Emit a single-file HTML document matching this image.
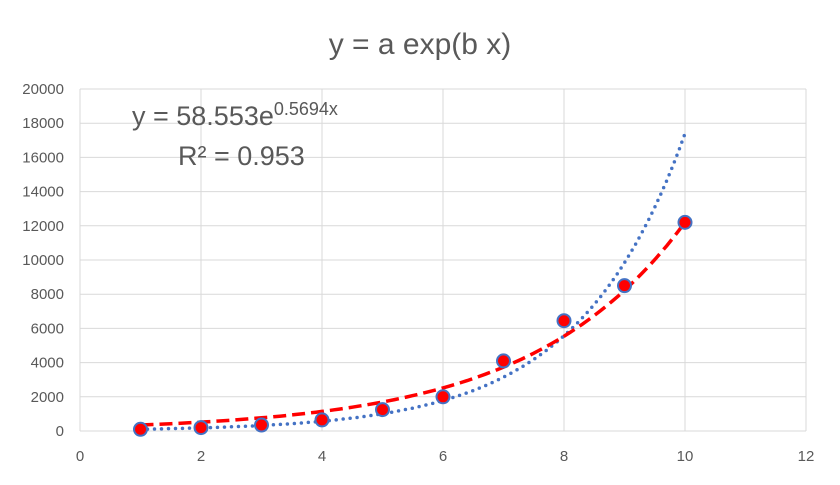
<!DOCTYPE html>
<html><head><meta charset="utf-8"><style>
body{margin:0;background:#fff;font-family:"Liberation Sans",sans-serif;}
svg text{font-family:"Liberation Sans",sans-serif;fill:#595959;}
</style></head><body>
<svg id="chart" width="840" height="480" xmlns="http://www.w3.org/2000/svg">
<rect width="840" height="480" fill="#fff"/>
<text x="420" y="54" text-anchor="middle" font-size="30">y = a exp(b x)</text>
<g id="grid"></g>
<g id="axes"></g>
<g id="series"></g>
<text x="132" y="125" font-size="27">y = 58.553e<tspan dy="-10" font-size="18">0.5694x</tspan></text>
<text x="178" y="165" font-size="27">R² = 0.953</text>
</svg>
<script>
const xTicks=[0,2,4,6,8,10,12];
const yTicks=[0,2000,4000,6000,8000,10000,12000,14000,16000,18000,20000];
const xData=[1,2,3,4,5,6,7,8,9,10];
const yData=[100,200,350,650,1250,2000,4100,6450,8500,12200];
const trendA=[58.553];
const trendB=[0.5694];
const fitA=[236];
const fitB=[0.3946];
const X0=80,X1=806,Y0=431,Y1=89;
const sx=v=>X0+(v-0)/12*(X1-X0);
const sy=v=>Y0-(v/20000)*(Y0-Y1);
const NS="http://www.w3.org/2000/svg";
function mk(t,p,a){const e=document.createElementNS(NS,t);for(const k in a)e.setAttribute(k,a[k]);p.appendChild(e);return e;}
const grid=document.getElementById('grid'),axes=document.getElementById('axes'),ser=document.getElementById('series');
yTicks.forEach(v=>{
 const l=mk('line',grid,{x1:X0,x2:X1,y1:sy(v),y2:sy(v),stroke:'#d9d9d9','stroke-width':1});
 
 
 const t=mk('text',axes,{x:X0-16,y:sy(v)+5,'text-anchor':'end','font-size':15});
 t.textContent=v;
 
 
});
xTicks.forEach(v=>{
 const l=mk('line',grid,{x1:sx(v),x2:sx(v),y1:Y1,y2:Y0,stroke:'#d9d9d9','stroke-width':1});
 
 
 const t=mk('text',axes,{x:sx(v),y:Y0+30,'text-anchor':'middle','font-size':15});
 t.textContent=v;
 
 
});
function curve(a,b){let d='';for(let i=0;i<=90;i++){const x=1+i*0.1;d+=(i?'L':'M')+sx(x).toFixed(1)+','+sy(a*Math.exp(b*x)).toFixed(1);}return d;}
const blue=mk('path',ser,{d:curve(trendA[0],trendB[0]),fill:'none',stroke:'#4472C4','stroke-width':3.5,'stroke-dasharray':'0 7','stroke-linecap':'round'});


const red=mk('path',ser,{d:curve(fitA[0],fitB[0]),fill:'none',stroke:'#FF0000','stroke-width':3.5,'stroke-dasharray':'13 6'});


xData.forEach((x,i)=>{
 const c=mk('circle',ser,{cx:sx(x),cy:sy(yData[i]),r:6.5,fill:'#FF0000',stroke:'#4472C4','stroke-width':2});
 
 
});
</script>
</body></html>
